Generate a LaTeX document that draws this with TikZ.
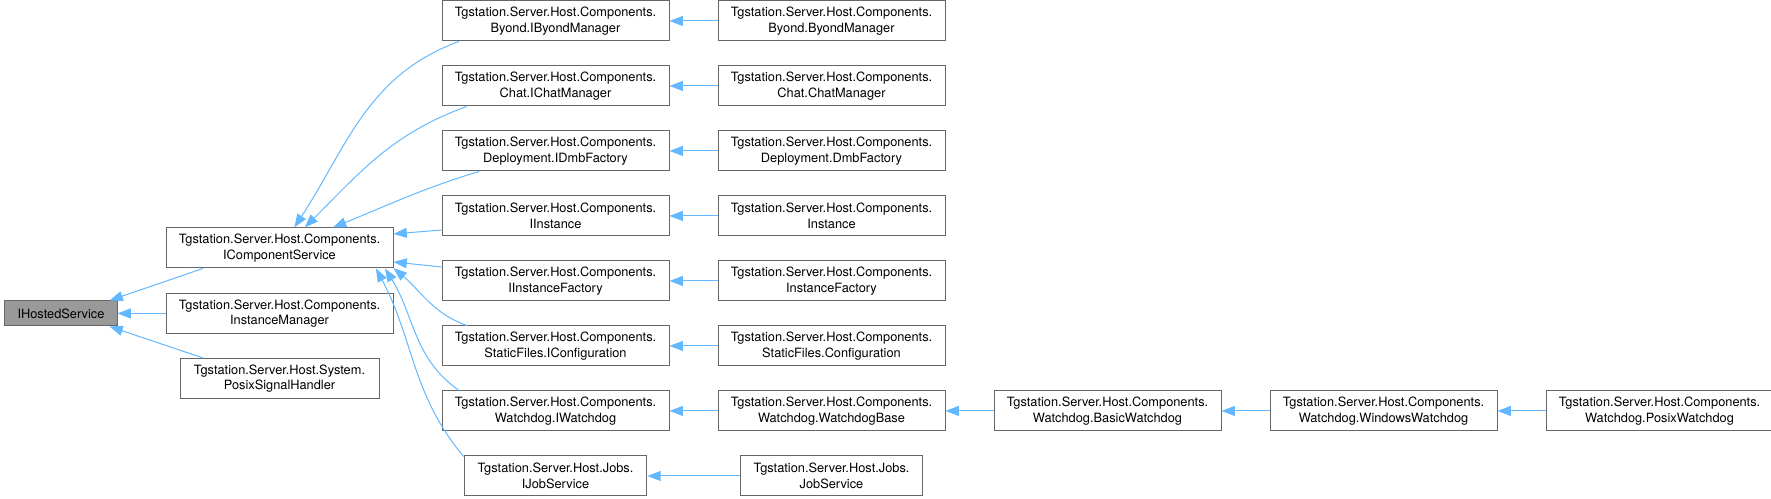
\documentclass[tikz,border=0pt]{standalone}
\usepackage{fontspec}
\setmainfont{TeX Gyre Heros}
\usetikzlibrary{arrows.meta, positioning}

\definecolor{edgeblue}{HTML}{63B8FF}
\definecolor{boxgray}{HTML}{666666}
\definecolor{selgray}{HTML}{999999}

\begin{document}
\begin{tikzpicture}[
    node distance=18pt and 36pt,
    every node/.style={draw=boxgray, line width=0.75pt, minimum width=170.25pt, minimum height=30pt, inner sep=1pt, align=center, font=\fontsize{9.6}{11.5}\selectfont},
    arrow/.style={-{Triangle[length=10pt, width=7.5pt]}, draw=edgeblue, line width=0.75pt},
    narrow/.style={minimum width=137pt}
  ]
  \useasboundingbox (-45.75pt,-139.1pt) rectangle (1282.5pt,235.1pt);

  % Root interface
  \node (ihs) [fill=selgray, minimum width=84pt, minimum height=18.75pt] at (0,0) {IHostedService};

  % Direct implementers
  \node (ics) [above right=24pt and 36pt of ihs] {Tgstation.Server.Host.Components.\\IComponentService};
  \node (im)  [right=36pt of ihs] {Tgstation.Server.Host.Components.\\InstanceManager};
  \node (psh) [below=of im, minimum width=149.25pt] {Tgstation.Server.Host.System.\\PosixSignalHandler};

  % Component interfaces
  \node (iinst) [right=36pt of ics, yshift=24pt] {Tgstation.Server.Host.Components.\\IInstance};
  \node (idf)   [above=of iinst] {Tgstation.Server.Host.Components.\\Deployment.IDmbFactory};
  \node (icm)   [above=of idf] {Tgstation.Server.Host.Components.\\Chat.IChatManager};
  \node (ibm)   [above=of icm] {Tgstation.Server.Host.Components.\\Byond.IByondManager};
  \node (iif)   [below=of iinst] {Tgstation.Server.Host.Components.\\IInstanceFactory};
  \node (icfg)  [below=of iif] {Tgstation.Server.Host.Components.\\StaticFiles.IConfiguration};
  \node (iwd)   [below=of icfg] {Tgstation.Server.Host.Components.\\Watchdog.IWatchdog};
  \node (ijs)   [below=of iwd, narrow] {Tgstation.Server.Host.Jobs.\\IJobService};

  % Implementations
  \node (bm)   [right=of ibm] {Tgstation.Server.Host.Components.\\Byond.ByondManager};
  \node (cm)   [right=of icm] {Tgstation.Server.Host.Components.\\Chat.ChatManager};
  \node (df)   [right=of idf] {Tgstation.Server.Host.Components.\\Deployment.DmbFactory};
  \node (inst) [right=of iinst] {Tgstation.Server.Host.Components.\\Instance};
  \node (if)   [right=of iif] {Tgstation.Server.Host.Components.\\InstanceFactory};
  \node (cfg)  [right=of icfg] {Tgstation.Server.Host.Components.\\StaticFiles.Configuration};
  \node (wdb)  [right=of iwd] {Tgstation.Server.Host.Components.\\Watchdog.WatchdogBase};
  \node (js)   [below=of wdb, narrow] {Tgstation.Server.Host.Jobs.\\JobService};

  % Watchdog chain
  \node (bwd) [right=of wdb] {Tgstation.Server.Host.Components.\\Watchdog.BasicWatchdog};
  \node (wwd) [right=of bwd] {Tgstation.Server.Host.Components.\\Watchdog.WindowsWatchdog};
  \node (pwd) [right=of wwd] {Tgstation.Server.Host.Components.\\Watchdog.PosixWatchdog};

  % Arrows to the root
  \draw[arrow] (ics.195) -- (ihs.15);
  \draw[arrow] (im) -- (ihs);
  \draw[arrow] (psh.165) -- (ihs.-15);

  % Arrows to IComponentService
  \draw[arrow] (ibm.192) to[out=200, in=57] (ics.54);
  \draw[arrow] (icm.193) to[out=200, in=45] (ics.39);
  \draw[arrow] (idf.195) to[out=197, in=22] (ics.21);
  \draw[arrow] (iinst.187) -- (ics.7);
  \draw[arrow] (iif.173) -- (ics.-7);
  \draw[arrow] (icfg.167) to[out=160, in=-40] (ics.-10);
  \draw[arrow] (iwd.168) to[out=145, in=-58] (ics.-11);
  \draw[arrow] (ijs.168) to[out=130, in=-62] (ics.-12.5);

  % Implementation arrows
  \draw[arrow] (bm) -- (ibm);
  \draw[arrow] (cm) -- (icm);
  \draw[arrow] (df) -- (idf);
  \draw[arrow] (inst) -- (iinst);
  \draw[arrow] (if) -- (iif);
  \draw[arrow] (cfg) -- (icfg);
  \draw[arrow] (wdb) -- (iwd);
  \draw[arrow] (js) -- (ijs);
  \draw[arrow] (bwd) -- (wdb);
  \draw[arrow] (wwd) -- (bwd);
  \draw[arrow] (pwd) -- (wwd);
\end{tikzpicture}
\end{document}
